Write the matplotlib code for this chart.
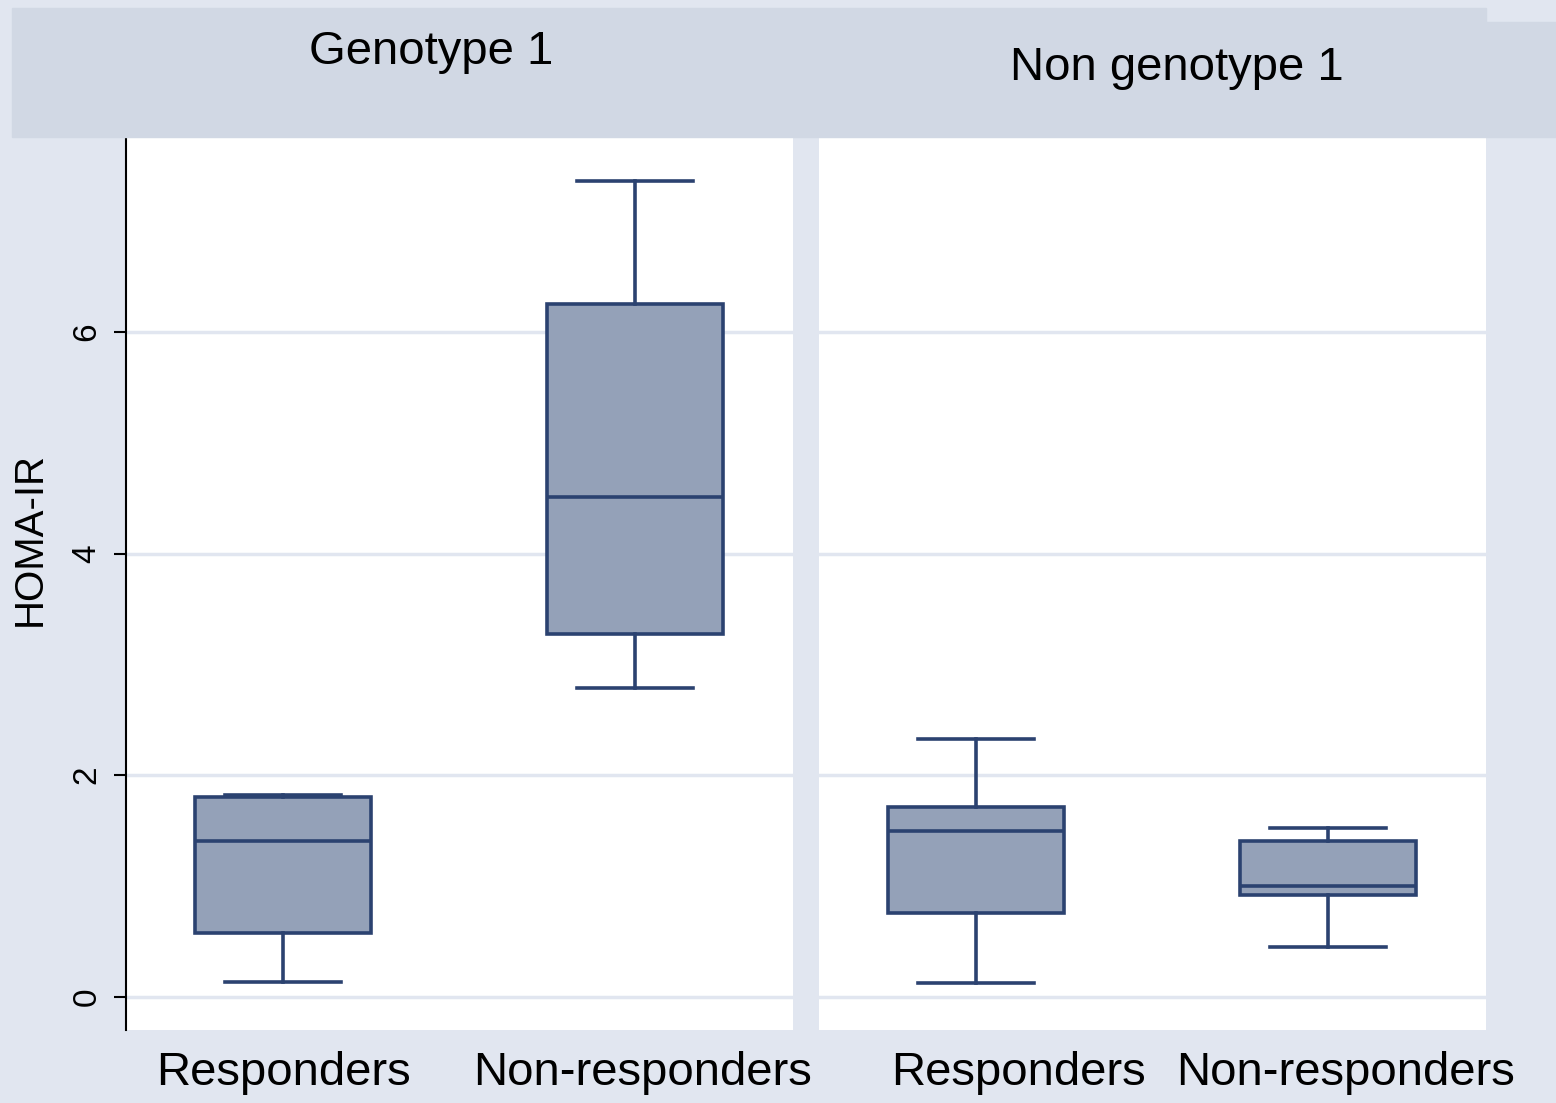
import matplotlib
matplotlib.use("Agg")
import matplotlib.pyplot as plt
from matplotlib.patches import Rectangle

plt.rcParams['font.family'] = ['Liberation Sans', 'DejaVu Sans']

# Data (HOMA-IR)
panels = ["Genotype 1", "Non genotype 1"]
groups = ["Responders", "Non-responders"]
whislo = [[0.13, 2.79], [0.12, 0.45]]
q1 = [[0.58, 3.27], [0.76, 0.92]]
med = [[1.41, 4.51], [1.50, 1.00]]
q3 = [[1.80, 6.25], [1.71, 1.41]]
whishi = [[1.82, 7.36], [2.33, 1.52]]
yticks = [0, 2, 4, 6]

bg = "#e1e6f0"
strip = "#d1d8e4"
fill = "#94a1b8"
edge = "#2b4270"

W, H = 1556, 1103
fig = plt.figure(figsize=(W / 100, H / 100), dpi=100, facecolor=bg)

# header strips
fig.patches.append(Rectangle((12 / W, 1 - 137 / H), 1474 / W, 129 / H,
                             transform=fig.transFigure, color=strip, zorder=0))
fig.patches.append(Rectangle((1486 / W, 1 - 137 / H), 70 / W, 115 / H,
                             transform=fig.transFigure, color=strip, zorder=0))
fig.text(431 / W, 1 - 52 / H, panels[0], ha="center", va="center", fontsize=34)
fig.text(1177 / W, 1 - 68 / H, panels[1], ha="center", va="center", fontsize=34)
fig.text(30 / W, 1 - 539 / H, "HOMA-IR", rotation=90, ha="center", va="center",
         fontsize=29)

lefts = [126, 819]
# small horizontal nudges of the category labels (pixels)
label_shift = [[0, 8], [42, 18]]
for i in range(2):
    ax = fig.add_axes([lefts[i] / W, (H - 1030) / H, 667 / W, 893 / H])
    ax.set_facecolor("white")
    stats = []
    for j in range(2):
        stats.append(dict(med=med[i][j], q1=q1[i][j], q3=q3[i][j],
                          whislo=whislo[i][j], whishi=whishi[i][j], fliers=[]))
    ax.bxp(stats, positions=[1, 2], widths=0.5, patch_artist=True,
           showfliers=False, capwidths=0.33,
           boxprops=dict(facecolor=fill, edgecolor=edge, linewidth=2.6),
           medianprops=dict(color=edge, linewidth=2.6),
           whiskerprops=dict(color=edge, linewidth=2.6),
           capprops=dict(color=edge, linewidth=2.6))
    ax.set_xlim(0.553, 2.45)
    ax.set_ylim(-0.30, 7.76)
    ax.set_yticks(yticks)
    for y in yticks:
        ax.axhline(y, color=bg, linewidth=2.5, zorder=0)
    for s in ["top", "right", "bottom"]:
        ax.spines[s].set_visible(False)
    ax.set_xticks([])
    for j in range(2):
        ax.annotate(groups[j], xy=(j + 1, 0), xycoords=("data", "axes fraction"),
                    xytext=(label_shift[i][j] * 0.72, -43 * 0.72),
                    textcoords="offset points", ha="center", va="center",
                    fontsize=34, annotation_clip=False)
    if i == 0:
        ax.spines["left"].set_color("black")
        ax.spines["left"].set_linewidth(1.5)
        ax.tick_params(axis="y", length=9, width=1.5, pad=8, labelsize=24)
        for lab in ax.get_yticklabels():
            lab.set_rotation(90)
            lab.set_va("center")
    else:
        ax.spines["left"].set_visible(False)
        ax.tick_params(axis="y", left=False, labelleft=False)

fig.savefig("out.png", dpi=100, facecolor=bg)
